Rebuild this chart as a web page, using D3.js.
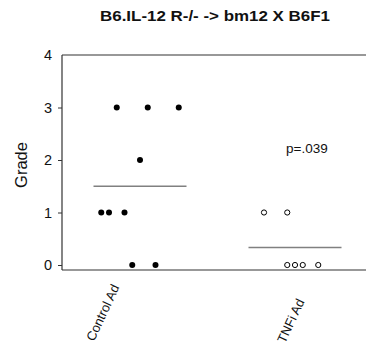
<!DOCTYPE html>
<html><head><meta charset="utf-8">
<script src="https://cdn.jsdelivr.net/npm/d3@7"></script>
<style>body{margin:0;background:#fff}svg{display:block;font-family:"Liberation Sans",Arial,sans-serif}</style>
</head><body>
<svg id="c" width="366" height="347"></svg>
<script>
const title = "B6.IL-12 R-/- -> bm12 X B6F1";
const categories = ["Control Ad", "TNFi Ad"];
const categoryPos = [1, 2];
const controlX = [0.85, 1.05, 1.25, 1.0, 0.75, 0.80, 0.90, 0.95, 1.10];
const controlGrade = [3, 3, 3, 2, 1, 1, 1, 0, 0];
const tnfiX = [1.80, 1.95, 1.95, 2.0, 2.05, 2.15];
const tnfiGrade = [1, 1, 0, 0, 0, 0];
const meanGrade = [1.5, 0.333];
const meanSpan = [[0.70, 1.30], [1.70, 2.30]];
const yTicks = [0, 1, 2, 3, 4];
const pText = "p=.039";

const svg = d3.select("#c");
const x = d3.scaleLinear().domain([1, 2]).range([140, 295]);
const y = d3.scaleLinear().domain([0, 4]).range([265, 55]);
const left = 62, right = 366, bottom = 270;

// frame lines
svg.append("line").attr("x1", left).attr("x2", right).attr("y1", y(4)).attr("y2", y(4))
  .attr("stroke", "#333").attr("stroke-width", 1.2);
svg.append("line").attr("x1", left).attr("x2", right).attr("y1", bottom).attr("y2", bottom)
  .attr("stroke", "#333").attr("stroke-width", 1.2);

// y axis
const yAxis = d3.axisLeft(y).tickValues(yTicks).tickSize(4).tickPadding(6).tickFormat(d3.format("d"));
const ga = svg.append("g").attr("transform", `translate(${left},0)`).call(yAxis);
ga.select(".domain").attr("d", `M0,${y(4)}V${bottom}`).attr("stroke", "#333").attr("stroke-width", 1.2);
ga.selectAll(".tick line").attr("stroke", "#333");
ga.selectAll(".tick text").attr("font-size", 14.5).attr("fill", "#111")
  .attr("font-family", "Liberation Sans, Arial, sans-serif");
ga.selectAll(".tick").filter(d => d === 4).select("line").remove();

// mean lines
svg.selectAll("line.mean").data(meanGrade).join("line").attr("class", "mean")
  .attr("x1", (d, i) => x(meanSpan[i][0])).attr("x2", (d, i) => x(meanSpan[i][1]))
  .attr("y1", d => y(d)).attr("y2", d => y(d))
  .attr("stroke", "#808080").attr("stroke-width", 1.5);

// points
svg.selectAll("circle.ctrl").data(controlGrade).join("circle").attr("class", "ctrl")
  .attr("cx", (d, i) => x(controlX[i])).attr("cy", d => y(d)).attr("r", 3).attr("fill", "#000");
svg.selectAll("circle.tnf").data(tnfiGrade).join("circle").attr("class", "tnf")
  .attr("cx", (d, i) => x(tnfiX[i])).attr("cy", d => y(d)).attr("r", 2.6)
  .attr("fill", "#fff").attr("stroke", "#000").attr("stroke-width", 1);

// category labels
const labelStart = [[94, 342], [285, 344]];
svg.selectAll("text.cat").data(categories).join("text").attr("class", "cat")
  .attr("transform", (d, i) => `translate(${labelStart[i][0]},${labelStart[i][1]}) rotate(-65)`)
  .attr("font-size", 13).attr("fill", "#111").text(d => d);

// title
svg.append("text").attr("x", 100).attr("y", 21)
  .attr("font-size", 15).attr("font-weight", "bold").attr("fill", "#111")
  .attr("textLength", 230).attr("lengthAdjust", "spacingAndGlyphs").text(title);

// y label
svg.append("text").attr("transform", "translate(27,165) rotate(-90)").attr("text-anchor", "middle")
  .attr("font-size", 16.5).attr("fill", "#111").text("Grade");

// p value
svg.append("text").attr("x", 286).attr("y", 153).attr("font-size", 13.5).attr("fill", "#111").text(pText);
</script>
</body></html>
